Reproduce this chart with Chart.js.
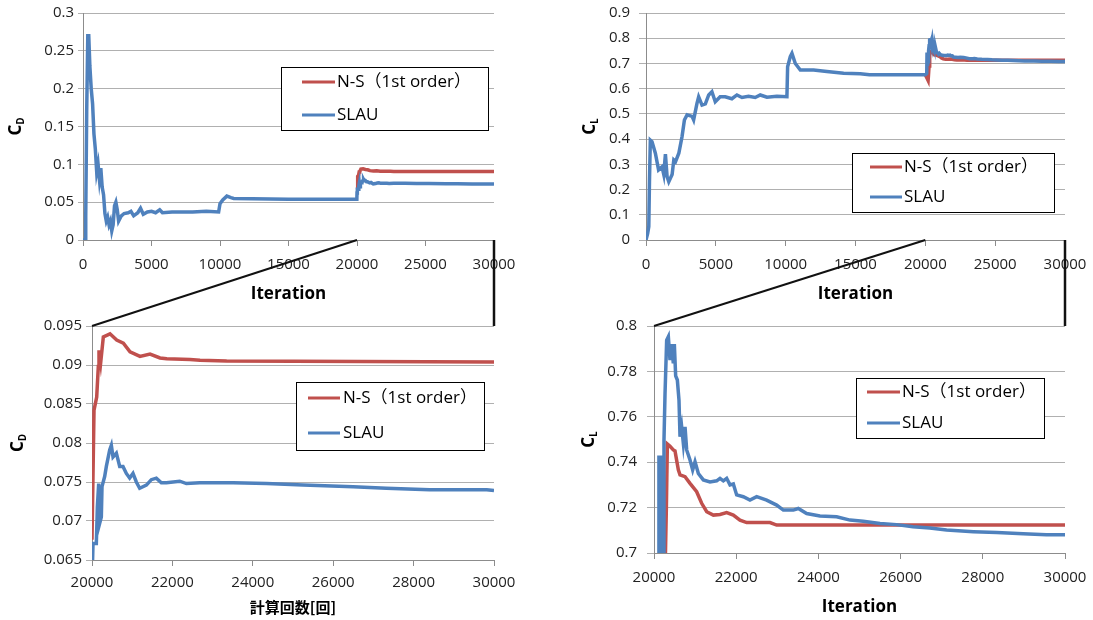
<!DOCTYPE html>
<html lang="ja">
<head>
<meta charset="UTF-8">
<title>CD / CL convergence</title>
<style>
  body { margin: 0; background: #fff; }
  #wrap { position: relative; width: 1093px; height: 620px; overflow: hidden; }
  #wrap canvas { position: absolute; }
  #overlay { left: 0; top: 0; pointer-events: none; }
</style>
</head>
<body>
<div id="wrap">
  <canvas id="cdAll" width="540" height="310" style="left:0;top:0"></canvas>
  <canvas id="clAll" width="547" height="310" style="left:546px;top:0"></canvas>
  <canvas id="cdZoom" width="540" height="310" style="left:0;top:310px"></canvas>
  <canvas id="clZoom" width="547" height="310" style="left:546px;top:310px"></canvas>
  <canvas id="overlay" width="1093" height="620"></canvas>
</div>
<script src="https://cdn.jsdelivr.net/npm/chart.js"></script>
<script>
// ---- data ----
const seriesNames = ['N-S\uFF081st order\uFF09', 'SLAU'];

// SLAU drag coefficient
const cdSlauIter = [0, 150, 200, 270, 350, 420, 500, 600, 700, 800, 900, 1000, 1100, 1200, 1300, 1400, 1500, 1600, 1700, 1800,
  1900, 2000, 2100, 2200, 2300, 2400, 2500, 2600, 2800, 3000, 3300, 3500, 3700, 4000, 4200, 4400, 4700, 5000, 5300, 5600,
  5800, 6500, 8000, 9000, 9900, 10000, 10200, 10500, 10800, 11000, 15000, 19990,
  20000, 20025, 20108, 20133, 20166, 20191, 20232, 20249, 20315, 20357, 20440, 20481, 20523, 20606, 20689, 20771, 20854,
  20937, 21020, 21103, 21186, 21352, 21476, 21600, 21725, 21850, 22182, 22348, 22680, 23510, 24340, 25250, 26495, 27325,
  28400, 29820, 30000];
const cdSlau = [0, 0, 0.03, 0.17, 0.27, 0.27, 0.23, 0.2, 0.18, 0.14, 0.12, 0.09, 0.1, 0.08, 0.095, 0.07, 0.06, 0.035, 0.025, 0.03,
  0.02, 0.025, 0.012, 0.02, 0.045, 0.05, 0.04, 0.025, 0.032, 0.035, 0.036, 0.038, 0.032, 0.036, 0.042, 0.034, 0.037, 0.038, 0.036, 0.04,
  0.036, 0.037, 0.037, 0.038, 0.037, 0.048, 0.053, 0.058, 0.056, 0.055, 0.054, 0.054,
  0.062, 0.0671, 0.0671, 0.0718, 0.0748, 0.0697, 0.0705, 0.0744, 0.0757, 0.077, 0.0791, 0.0797, 0.0782, 0.0787, 0.077, 0.077, 0.0761,
  0.0755, 0.0761, 0.075, 0.0742, 0.0746, 0.0753, 0.0755, 0.0749, 0.0749, 0.0751, 0.0748, 0.0749, 0.0749, 0.0748, 0.0746, 0.0744, 0.0742,
  0.074, 0.074, 0.0739];

// N-S drag coefficient (restarted at 20000)
const cdNsIter = [20000, 20050, 20117, 20157, 20174, 20216, 20282, 20448, 20614, 20780, 20946, 21194, 21443, 21692, 21858,
  22438, 22687, 23350, 30000];
const cdNs = [0.0676, 0.0842, 0.0859, 0.0898, 0.0919, 0.0903, 0.0936, 0.094, 0.0932, 0.0928, 0.0917, 0.0911, 0.0914, 0.0909, 0.0908,
  0.0907, 0.0906, 0.0905, 0.0904];

// SLAU lift coefficient
const clSlauIter = [0, 120, 200, 250, 310, 430, 670, 900, 1150, 1270, 1390, 1510, 1630, 1870, 1990, 2110, 2350, 2580, 2750, 2940,
  3300, 3410, 3650, 3770, 4010, 4250, 4490, 4720, 4960, 5310, 5670, 6150, 6510, 6870, 7340, 7820, 8180, 8660, 9370, 10090,
  10140, 10330, 10450, 10690, 11050, 12000, 12950, 14150, 15340, 16000, 19990,
  20000, 20100, 20120, 20140, 20160, 20180, 20200, 20220, 20243, 20268, 20308, 20349, 20389, 20430, 20470, 20495, 20527, 20568,
  20608, 20633, 20673, 20714, 20755, 20795, 20876, 20941, 20998, 21079, 21200, 21362, 21525, 21606, 21687, 21768, 21849, 21930,
  22011, 22173, 22335, 22498, 22741, 22984, 23146, 23390, 23511, 23714, 24038, 24444, 24769, 25090, 25500, 25900, 26300, 26710,
  27120, 27770, 28340, 28980, 29550, 30000];
const clSlau = [0, 0.026, 0.053, 0.238, 0.396, 0.39, 0.344, 0.278, 0.29, 0.26, 0.34, 0.251, 0.231, 0.26, 0.317, 0.31, 0.344, 0.41, 0.476, 0.496,
  0.49, 0.476, 0.542, 0.568, 0.535, 0.54, 0.575, 0.588, 0.548, 0.568, 0.568, 0.56, 0.575, 0.565, 0.57, 0.565, 0.575, 0.566, 0.57, 0.568,
  0.687, 0.727, 0.74, 0.7, 0.674, 0.674, 0.668, 0.661, 0.659, 0.655, 0.655,
  0.655, 0.66, 0.743, 0.69, 0.743, 0.69, 0.74, 0.7, 0.7498, 0.77, 0.7938, 0.7953, 0.785, 0.792, 0.7836, 0.792, 0.778, 0.7762,
  0.7674, 0.7512, 0.7556, 0.7483, 0.7556, 0.7454, 0.741, 0.7366, 0.7402, 0.735, 0.7322, 0.7313, 0.7318, 0.7329, 0.7318, 0.7329, 0.73, 0.7304,
  0.7256, 0.7248, 0.7233, 0.7248, 0.7233, 0.7211, 0.7189, 0.7189, 0.7196, 0.7174, 0.7163, 0.716, 0.7145, 0.714, 0.713, 0.7125, 0.7116, 0.711,
  0.7101, 0.7094, 0.709, 0.7085, 0.708, 0.708];

// N-S lift coefficient
const clNsIter = [20000, 20200, 20268, 20300, 20325, 20390, 20470, 20511, 20592, 20633, 20755, 20876, 21038, 21160, 21282,
  21444, 21606, 21768, 21930, 22092, 22254, 22822, 22984, 30000];
const clNs = [0.655, 0.632, 0.69, 0.719, 0.748, 0.747, 0.7454, 0.745, 0.7366, 0.7344, 0.7336, 0.7307, 0.727, 0.7219, 0.7182,
  0.7167, 0.717, 0.7178, 0.7167, 0.7145, 0.7134, 0.7134, 0.7123, 0.7123];

// ---- drawing ----
Chart.defaults.animation = false;
Chart.defaults.font.family = '"Open Sans", "Noto Sans CJK JP", sans-serif';

const RED = '#C0504D', BLUE = '#4F81BD';
const pts = (xs, ys) => xs.map((x, i) => ({x: x, y: ys[i]}));
const fmt = v => String(+Number(v).toFixed(4));

// rotated C with subscript for the y axis
const yTitle = {
  id: 'yTitle',
  afterDraw(chart, args, o) {
    const ctx = chart.ctx, a = chart.chartArea;
    ctx.save();
    ctx.translate(o.x, (a.top + a.bottom) / 2);
    ctx.rotate(-Math.PI / 2);
    ctx.fillStyle = '#000';
    ctx.textBaseline = 'middle';
    ctx.font = 'bold 17px "Open Sans"';
    const w1 = ctx.measureText(o.main).width;
    ctx.font = 'bold 10px "Open Sans"';
    const w2 = ctx.measureText(o.sub).width;
    const x0 = -(w1 + w2) / 2;
    ctx.font = 'bold 17px "Open Sans"';
    ctx.fillText(o.main, x0, 0);
    ctx.font = 'bold 10px "Open Sans"';
    ctx.fillText(o.sub, x0 + w1, 5);
    ctx.restore();
  }
};

// excel style boxed legend inside the plot
const boxLegend = {
  id: 'boxLegend',
  afterDraw(chart, args, o) {
    const ctx = chart.ctx, a = chart.chartArea;
    const x = Math.round(a.left + o.dx), y = Math.round(a.top + o.dy);
    ctx.save();
    ctx.fillStyle = '#fff';
    ctx.fillRect(x, y, o.w, o.h);
    ctx.strokeStyle = '#000';
    ctx.lineWidth = 1;
    ctx.strokeRect(x + 0.5, y + 0.5, o.w, o.h);
    ctx.font = '17px "Open Sans", "Noto Sans CJK JP"';
    ctx.textBaseline = 'middle';
    chart.data.datasets.forEach((ds, i) => {
      const ry = y + o.rows[i];
      ctx.strokeStyle = ds.borderColor;
      ctx.lineWidth = 3;
      ctx.beginPath();
      ctx.moveTo(x + o.line[0], ry);
      ctx.lineTo(x + o.line[1], ry);
      ctx.stroke();
      ctx.fillStyle = '#000';
      ctx.fillText(ds.label, x + o.text, ry);
    });
    ctx.restore();
  }
};

function makeChart(id, cfg) {
  const W = document.getElementById(id).width;
  const H = document.getElementById(id).height;
  return new Chart(document.getElementById(id), {
    type: 'line',
    data: {
      datasets: [
        {label: seriesNames[0], data: cfg.ns, borderColor: RED, backgroundColor: RED, borderWidth: 3.5, pointRadius: 0, tension: 0, order: 1},
        {label: seriesNames[1], data: cfg.slau, borderColor: BLUE, backgroundColor: BLUE, borderWidth: 3.5, pointRadius: 0, tension: 0, order: 0}
      ]
    },
    options: {
      responsive: false,
      events: [],
      layout: {padding: {top: cfg.area.top, right: W - cfg.area.right, left: 0, bottom: 0}},
      plugins: {
        legend: {display: false},
        tooltip: {enabled: false},
        yTitle: cfg.yTitle,
        boxLegend: cfg.legend
      },
      scales: {
        x: {
          type: 'linear', min: cfg.x[0], max: cfg.x[1],
          afterFit: s => { s.height = H - cfg.area.bottom; s.paddingLeft = 0; s.paddingRight = 0; },
          ticks: {stepSize: cfg.x[2], callback: v => String(v), color: '#222', font: {size: 15}, padding: cfg.xPad, maxRotation: 0},
          grid: {drawOnChartArea: false, color: '#8c8c8c', tickLength: 6},
          border: {color: '#8c8c8c'},
          title: {display: true, text: cfg.xTitle, color: '#000', font: cfg.xFont, padding: {top: 0, bottom: cfg.xTitlePad}}
        },
        y: {
          min: cfg.y[0], max: cfg.y[1],
          afterFit: s => { s.width = cfg.area.left; s.paddingTop = 0; s.paddingBottom = 0; },
          ticks: {stepSize: cfg.y[2], callback: fmt, color: '#222', font: {size: 15}, padding: cfg.yPad},
          grid: {color: '#b0b0b0', tickLength: cfg.yTick},
          border: {color: '#8c8c8c'}
        }
      }
    },
    plugins: [yTitle, boxLegend]
  });
}

const cdAll = makeChart('cdAll', {
  ns: pts(cdNsIter, cdNs), slau: pts(cdSlauIter, cdSlau),
  area: {left: 83, top: 13, right: 494, bottom: 240},
  x: [0, 30000, 5000], y: [0, 0.3, 0.05],
  xPad: 10, yPad: 4, yTick: 5,
  xTitle: 'Iteration', xFont: {size: 17, weight: 'bold'}, xTitlePad: 6,
  yTitle: {x: 16, main: 'C', sub: 'D'},
  legend: {dx: 198, dy: 54, w: 207, h: 63, line: [21, 54], text: 56, rows: [15, 48]}
});

const clAll = makeChart('clAll', {
  ns: pts(clNsIter, clNs), slau: pts(clSlauIter, clSlau),
  area: {left: 100, top: 13, right: 519, bottom: 240},
  x: [0, 30000, 5000], y: [0, 0.9, 0.1],
  xPad: 10, yPad: 9, yTick: 7,
  xTitle: 'Iteration', xFont: {size: 17, weight: 'bold'}, xTitlePad: 6,
  yTitle: {x: 44, main: 'C', sub: 'L'},
  legend: {dx: 206, dy: 140, w: 202, h: 59, line: [18, 50], text: 52, rows: [14, 44]}
});

const cdZoom = makeChart('cdZoom', {
  ns: pts(cdNsIter, cdNs), slau: pts(cdSlauIter, cdSlau),
  area: {left: 92, top: 16, right: 494, bottom: 250},
  x: [20000, 30000, 2000], y: [0.065, 0.095, 0.005],
  xPad: 8, yPad: 4, yTick: 6,
  xTitle: '計算回数[回]', xFont: {size: 15, weight: 'bold', family: '"Noto Sans CJK JP", sans-serif'}, xTitlePad: 4,
  yTitle: {x: 18, main: 'C', sub: 'D'},
  legend: {dx: 204, dy: 56, w: 188, h: 68, line: [12, 44], text: 47, rows: [16, 51]}
});

const clZoom = makeChart('clZoom', {
  ns: pts(clNsIter, clNs), slau: pts(clSlauIter, clSlau),
  area: {left: 108, top: 16, right: 519, bottom: 243},
  x: [20000, 30000, 2000], y: [0.7, 0.8, 0.02],
  xPad: 10, yPad: 10, yTick: 7,
  xTitle: 'Iteration', xFont: {size: 17, weight: 'bold'}, xTitlePad: 3,
  yTitle: {x: 43, main: 'C', sub: 'L'},
  legend: {dx: 202, dy: 52, w: 188, h: 60, line: [11, 44], text: 46, rows: [14, 45]}
});

// zoom connectors between the full history and the 20000-30000 close-up
function connect(full, zoom) {
  const ctx = document.getElementById('overlay').getContext('2d');
  const fc = full.canvas, zc = zoom.canvas;
  const fx = full.scales.x, fy = full.scales.y;
  const za = zoom.chartArea;
  const baseY = fc.offsetTop + fy.getPixelForValue(fy.min);
  ctx.save();
  ctx.strokeStyle = '#111';
  ctx.lineWidth = 2;
  ctx.beginPath();
  ctx.moveTo(zc.offsetLeft + za.left, zc.offsetTop + za.top);
  ctx.lineTo(fc.offsetLeft + fx.getPixelForValue(zoom.scales.x.min), baseY);
  ctx.stroke();
  ctx.lineWidth = 2.5;
  ctx.beginPath();
  ctx.moveTo(fc.offsetLeft + fx.getPixelForValue(zoom.scales.x.max), baseY);
  ctx.lineTo(zc.offsetLeft + za.right, zc.offsetTop + za.top);
  ctx.stroke();
  ctx.restore();
}
connect(cdAll, cdZoom);
connect(clAll, clZoom);
</script>
</body>
</html>
